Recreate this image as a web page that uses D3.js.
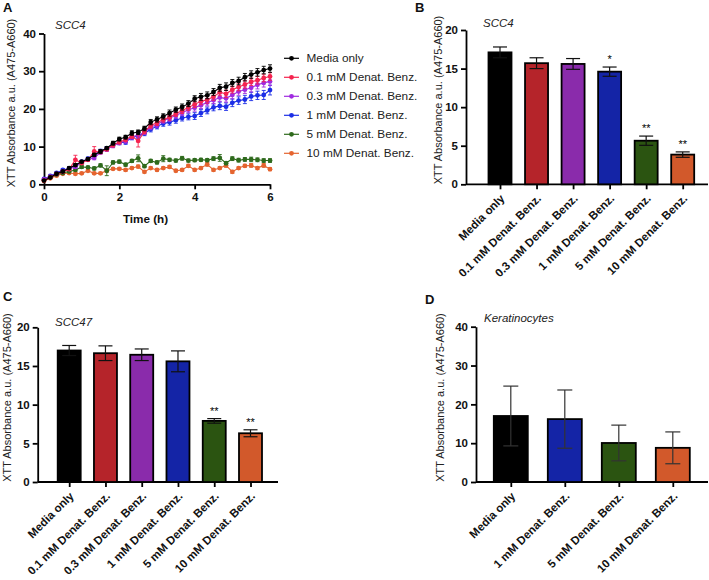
<!DOCTYPE html>
<html><head><meta charset="utf-8">
<script src="https://cdn.jsdelivr.net/npm/d3@7"></script>
<style>
body{margin:0;background:#fff;}
text{font-family:Arial,"Liberation Sans",sans-serif;}
</style></head>
<body><svg id="c" width="709" height="580"></svg>
<script>
// ---------- Panel A data (time course, every 10 min) ----------
const seriesNames = ["Media only","0.1 mM Denat. Benz.","0.3 mM Denat. Benz.","1 mM Denat. Benz.","5 mM Denat. Benz.","10 mM Denat. Benz."];
const timeHours = d3.range(37).map(i => i/6); // 0..6 h in 10-min steps
const mediaOnly = [1.0,1.8,2.8,3.4,4.3,5.1,6.0,6.7,7.8,8.7,9.6,10.9,12.0,12.5,13.6,13.8,14.8,16.5,17.2,18.0,18.9,19.8,20.5,21.4,22.7,23.2,23.6,24.5,25.6,25.9,26.9,27.4,28.4,29.1,29.7,30.3,30.7];
const mM01 = [1.0,1.9,2.7,3.3,4.0,6.5,5.6,6.5,8.7,8.6,9.3,10.4,11.2,11.8,12.8,11.5,14.0,15.6,16.3,17.2,17.8,18.7,19.6,20.4,21.2,22.0,22.4,23.2,24.4,24.0,25.1,25.8,26.5,27.2,27.6,28.2,28.6];
const mM03 = [1.3,2.0,2.8,3.5,4.1,4.6,5.8,6.6,7.0,8.5,9.2,10.2,11.0,11.5,12.6,13.0,13.8,15.2,15.8,16.9,17.5,18.3,19.0,19.8,20.3,21.0,21.7,22.3,23.0,22.8,23.7,24.6,25.1,25.6,26.4,26.9,27.3];
const mM1 = [1.4,2.2,3.0,3.8,4.2,5.0,6.0,6.8,7.9,8.8,9.5,10.4,11.0,11.2,12.4,12.8,13.5,14.6,15.4,16.1,16.5,17.0,17.6,17.9,18.1,18.9,19.6,20.4,20.8,20.6,21.6,22.2,22.5,23.3,23.6,23.7,25.0];
const mM5 = [1.2,1.9,2.6,3.0,3.4,3.8,4.6,4.5,4.2,5.0,3.6,5.8,6.0,5.2,6.2,6.9,4.8,6.2,5.8,6.8,6.5,6.3,6.9,6.3,6.4,6.5,6.4,6.8,7.0,5.6,6.8,6.4,6.6,6.6,6.5,6.3,6.3];
const mM10 = [0.9,1.6,2.3,2.8,3.0,2.8,2.9,3.6,2.9,2.9,3.6,4.1,4.1,3.8,4.3,4.7,3.3,4.3,3.8,4.3,4.6,3.6,3.8,4.9,3.8,4.3,5.3,3.8,4.3,5.0,3.3,4.3,4.9,5.0,4.3,5.0,4.0];
const errMedia = [0.2,0.2,0.3,0.3,0.3,0.4,0.3,0.4,0.4,0.5,0.4,0.5,0.5,0.5,0.6,0.6,0.6,0.7,0.7,0.7,0.8,0.7,0.8,0.8,0.8,0.9,0.9,0.9,0.9,1.0,0.9,1.0,1.0,1.0,1.0,1.0,1.0];
const err01 = [0.2,0.2,0.3,0.3,0.3,1.2,0.3,0.4,1.3,0.5,0.4,0.5,0.5,0.5,0.6,1.6,0.6,0.7,0.7,0.7,0.8,0.7,0.8,0.8,0.8,0.9,0.9,0.9,0.9,1.0,0.9,1.0,1.0,1.0,1.0,1.0,1.0];
const err03 = [0.2,0.2,0.3,0.3,0.3,0.4,0.3,0.4,0.5,0.5,0.5,0.5,0.5,0.6,0.6,0.6,0.6,0.7,0.7,0.7,0.8,0.8,0.8,0.8,0.9,0.9,0.9,0.9,1.0,1.0,1.0,1.0,1.0,1.1,1.1,1.1,1.1];
const err1 = [0.2,0.2,0.3,0.3,0.3,0.4,0.3,0.4,0.5,0.5,0.5,0.5,0.5,0.6,0.6,0.6,0.6,0.7,0.7,0.7,0.8,0.8,0.8,0.8,0.9,0.9,0.9,0.9,1.0,1.0,1.0,1.0,1.1,1.1,1.1,1.2,1.3];
const err5 = [0.2,0.2,0.2,0.3,0.3,0.3,0.4,0.3,0.4,0.4,1.3,0.4,0.4,0.4,0.4,0.9,0.4,0.4,0.4,0.8,0.4,0.4,0.5,0.4,0.4,0.4,0.4,0.5,0.9,0.4,0.5,0.5,0.5,0.6,0.5,0.5,0.5];
const err10 = [0.2,0.2,0.2,0.2,0.3,0.3,0.3,0.3,0.3,0.3,0.3,0.3,0.3,0.3,0.3,0.4,0.3,0.3,0.3,0.3,0.4,0.3,0.3,0.4,0.3,0.3,0.5,0.3,0.3,0.5,0.4,0.3,0.4,0.5,0.4,0.5,0.4];
const lineColors = ["#000000","#f5244f","#a02be0","#1c2ee6","#2e6a1c","#e5642f"];
const yTicksA = [0,10,20,30,40];
const xTicksA = [0,2,4,6];

// ---------- Panels B, C, D data ----------
const catsBC = ["Media only","0.1 mM Denat. Benz.","0.3 mM Denat. Benz.","1 mM Denat. Benz.","5 mM Denat. Benz.","10 mM Denat. Benz."];
const barColorsBC = ["#000000","#b5242a","#8a2bab","#1424a6","#2b5411","#d2592b"];
const meanB = [17.1,15.7,15.6,14.6,5.65,3.85];
const errB = [0.7,0.7,0.7,0.6,0.6,0.35];
const starsB = ["","","","*","**","**"];
const meanC = [17.0,16.65,16.45,15.6,7.9,6.3];
const errC = [0.65,0.95,0.75,1.35,0.3,0.45];
const starsC = ["","","","","**","**"];
const yTicksBC = [0,5,10,15,20];

const catsD = ["Media only","1 mM Denat. Benz.","5 mM Denat. Benz.","10 mM Denat. Benz."];
const barColorsD = ["#000000","#1424a6","#2b5411","#d2592b"];
const meanD = [17.0,16.2,10.05,8.8];
const errD = [7.7,7.5,4.6,4.1];
const yTicksD = [0,10,20,30,40];

const yLabel = "XTT Absorbance a.u. (A475-A660)";

const svg = d3.select("#c");
svg.append("rect").attr("width",709).attr("height",580).attr("fill","#fff");

function styleAxis(g){
  g.select(".domain").attr("stroke","#000").attr("stroke-width",1.8);
  g.selectAll(".tick line").attr("stroke","#000").attr("stroke-width",1.8);
  g.selectAll(".tick text").attr("fill","#111").attr("font-weight","bold").attr("font-size","11.5px").style("font-family","Arial, 'Liberation Sans', sans-serif");
}
function panelLabel(t,x,y){
  svg.append("text").attr("x",x).attr("y",y).attr("font-size","13px").attr("font-weight","bold").attr("fill","#111").text(t);
}
function titleText(t,x,y){
  svg.append("text").attr("x",x).attr("y",y).attr("font-size","11.5px").attr("font-style","italic").attr("fill","#222").text(t);
}
function yTitle(x,y){
  svg.append("text").attr("transform",`translate(${x},${y}) rotate(-90)`).attr("text-anchor","middle")
    .attr("dominant-baseline","central").attr("font-size","11px").attr("fill","#222").text(yLabel);
}

// ---------- Panel A ----------
(function(){
  const x = d3.scaleLinear().domain([0,6]).range([44,270]);
  const y = d3.scaleLinear().domain([0,40]).range([184.3,33.5]);
  const gy = svg.append("g").attr("transform","translate(44,0)")
    .call(d3.axisLeft(y).tickValues(yTicksA).tickSize(5).tickPadding(3).tickSizeOuter(0));
  styleAxis(gy);
  const gx = svg.append("g").attr("transform","translate(0,184.3)")
    .call(d3.axisBottom(x).tickValues(xTicksA).tickFormat(d3.format("d")).tickSize(5).tickPadding(4).tickSizeOuter(0));
  styleAxis(gx);
  svg.append("text").attr("x",145.5).attr("y",223).attr("text-anchor","middle").attr("font-size","11.7px")
    .attr("font-weight","bold").attr("fill","#111").text("Time (h)");
  yTitle(11,103);
  titleText("SCC4",55,29);
  panelLabel("A",3,12);

  const vals = [mediaOnly,mM01,mM03,mM1,mM5,mM10];
  const errs = [errMedia,err01,err03,err1,err5,err10];
  const line = d3.line().x((d,i)=>x(timeHours[i])).y(d=>y(d));
  for(let s=5;s>=0;s--){
    const g = svg.append("g");
    const c = lineColors[s];
    g.append("path").attr("d",line(vals[s])).attr("fill","none").attr("stroke",c).attr("stroke-width",1.1);
    vals[s].forEach((v,i)=>{
      const e = errs[s][i], cx = x(timeHours[i]);
      g.append("line").attr("x1",cx).attr("x2",cx).attr("y1",y(v-e)).attr("y2",y(v+e)).attr("stroke",c).attr("stroke-width",0.9);
      [v-e,v+e].forEach(w=>g.append("line").attr("x1",cx-2).attr("x2",cx+2).attr("y1",y(w)).attr("y2",y(w)).attr("stroke",c).attr("stroke-width",0.9));
      g.append("circle").attr("cx",cx).attr("cy",y(v)).attr("r",2.4).attr("fill",c);
    });
  }
  // legend
  const ly = d3.scalePoint().domain(seriesNames).range([58.3,153.3]);
  seriesNames.forEach((n,i)=>{
    const yy = ly(n);
    svg.append("line").attr("x1",284).attr("x2",299).attr("y1",yy).attr("y2",yy).attr("stroke",lineColors[i]).attr("stroke-width",1.2);
    svg.append("circle").attr("cx",291.5).attr("cy",yy).attr("r",2.4).attr("fill",lineColors[i]);
    svg.append("text").attr("x",306.5).attr("y",yy).attr("dominant-baseline","central").attr("font-size","11.8px").attr("fill","#222").text(n);
  });
})();

// ---------- Bar panel helper ----------
function barPanel(o){
  const x = d3.scalePoint().domain(o.cats).range(o.xr);
  const y = d3.scaleLinear().domain(o.yd).range(o.yr);
  const gy = svg.append("g").attr("transform",`translate(${o.x0},0)`)
    .call(d3.axisLeft(y).tickValues(o.ticks).tickSize(5).tickPadding(3).tickSizeOuter(0));
  styleAxis(gy);
  const gx = svg.append("g").attr("transform",`translate(0,${o.yr[0]})`)
    .call(d3.axisBottom(x).tickSize(5).tickSizeOuter(0));
  gx.select(".domain").attr("d",`M${o.x0},0H${o.x1}`);
  styleAxis(gx);
  gx.selectAll(".tick text").attr("y",0).attr("dy","0.35em").attr("text-anchor","end")
    .attr("transform","translate(2,12) rotate(-45)").attr("font-size","11.5px");
  const bw = o.bw;
  o.means.forEach((m,i)=>{
    const cx = x(o.cats[i]);
    svg.append("rect").attr("x",cx-bw/2).attr("y",y(m)).attr("width",bw).attr("height",y(0)-y(m))
      .attr("fill",o.colors[i]).attr("stroke","#000").attr("stroke-width",1.8);
  });
  o.means.forEach((m,i)=>{
    const cx = x(o.cats[i]), e = o.errs[i];
    const g = svg.append("g").attr("stroke",o.errColor).attr("stroke-width",1.2);
    g.append("line").attr("x1",cx).attr("x2",cx).attr("y1",y(m-e)).attr("y2",y(m+e));
    [m-e,m+e].forEach(w=>g.append("line").attr("x1",cx-o.cap/2).attr("x2",cx+o.cap/2).attr("y1",y(w)).attr("y2",y(w)));
    if(o.stars && o.stars[i]){
      svg.append("text").attr("x",cx).attr("y",y(m+e)-4).attr("text-anchor","middle").attr("font-size","11px").attr("fill","#000").text(o.stars[i]);
    }
  });
}

// ---------- Panel B ----------
barPanel({cats:catsBC,xr:[500,682.7],x0:466,x1:708,yd:[0,20],yr:[184.3,30],ticks:yTicksBC,
  means:meanB,errs:errB,colors:barColorsBC,stars:starsB,bw:23,cap:14,errColor:"#111"});
yTitle(438,100);
titleText("SCC4",483,27);
panelLabel("B",415,12);

// ---------- Panel C ----------
barPanel({cats:catsBC,xr:[69.2,250.5],x0:37.7,x1:278,yd:[0,20],yr:[482,327.3],ticks:yTicksBC,
  means:meanC,errs:errC,colors:barColorsBC,stars:starsC,bw:23,cap:14,errColor:"#111"});
yTitle(7,397.5);
titleText("SCC47",55,325.5);
panelLabel("C",3,301);

// ---------- Panel D ----------
barPanel({cats:catsD,xr:[510.8,672.8],x0:476,x1:708,yd:[0,40],yr:[482,326.7],ticks:yTicksD,
  means:meanD,errs:errD,colors:barColorsD,stars:null,bw:34,cap:15,errColor:"#333"});
yTitle(440,397.5);
titleText("Keratinocytes",484,322);
panelLabel("D",425,304);
</script></body></html>
